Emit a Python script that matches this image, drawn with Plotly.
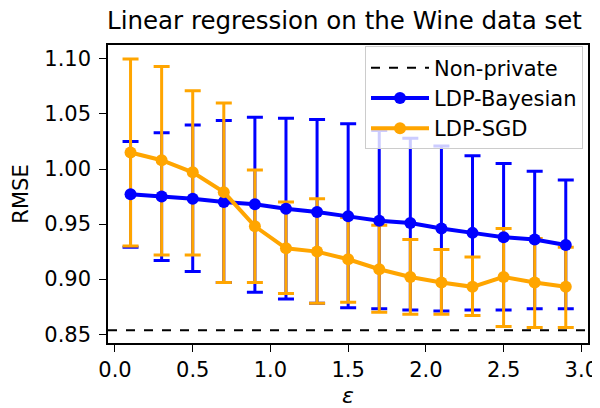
import plotly.graph_objects as go

# ---- data ----
eps = [0.1, 0.3, 0.5, 0.7, 0.9, 1.1, 1.3, 1.5, 1.7, 1.9, 2.1, 2.3, 2.5, 2.7, 2.9]

bayes_mean = [0.977, 0.975, 0.973, 0.970, 0.968, 0.964, 0.961, 0.957, 0.953, 0.951, 0.946, 0.942, 0.938, 0.936, 0.931]
bayes_hi = [1.025, 1.033, 1.040, 1.044, 1.047, 1.046, 1.045, 1.041, 1.035, 1.028, 1.021, 1.012, 1.005, 0.998, 0.990]
bayes_lo = [0.929, 0.917, 0.907, 0.897, 0.888, 0.882, 0.878, 0.874, 0.873, 0.872, 0.871, 0.872, 0.872, 0.873, 0.873]

sgd_mean = [1.015, 1.008, 0.997, 0.979, 0.948, 0.928, 0.925, 0.918, 0.909, 0.902, 0.897, 0.893, 0.902, 0.897, 0.893]
sgd_hi = [1.100, 1.093, 1.071, 1.060, 0.999, 0.970, 0.973, 0.956, 0.949, 0.936, 0.927, 0.920, 0.946, 0.937, 0.929]
sgd_lo = [0.930, 0.922, 0.922, 0.897, 0.897, 0.887, 0.878, 0.879, 0.870, 0.868, 0.868, 0.867, 0.857, 0.856, 0.856]

nonprivate = 0.8535

x_ticks = [0.0, 0.5, 1.0, 1.5, 2.0, 2.5, 3.0]
y_ticks = [0.85, 0.90, 0.95, 1.00, 1.05, 1.10]

BLUE = "#0000ff"
ORANGE = "#ffa500"
FONT = "DejaVu Sans"


def err(mean, hi, lo, color):
    return dict(
        type="data",
        symmetric=False,
        array=[h - m for h, m in zip(hi, mean)],
        arrayminus=[m - l for m, l in zip(mean, lo)],
        color=color,
        thickness=3,
        width=8,
    )


fig = go.Figure()

# error bars first (drawn beneath all lines/markers, like matplotlib)
fig.add_trace(go.Scatter(x=eps, y=bayes_mean, mode="markers",
                         marker=dict(size=1, color=BLUE, opacity=0),
                         error_y=err(bayes_mean, bayes_hi, bayes_lo, BLUE),
                         showlegend=False, hoverinfo="skip"))
fig.add_trace(go.Scatter(x=eps, y=sgd_mean, mode="markers",
                         marker=dict(size=1, color=ORANGE, opacity=0),
                         error_y=err(sgd_mean, sgd_hi, sgd_lo, ORANGE),
                         showlegend=False, hoverinfo="skip"))

# legend entry for the non-private line
fig.add_trace(go.Scatter(x=[None], y=[None], mode="lines",
                         line=dict(color="black", width=2, dash="dash"),
                         name="Non-private"))

fig.add_trace(go.Scatter(x=eps, y=bayes_mean, mode="lines+markers",
                         line=dict(color=BLUE, width=4),
                         marker=dict(size=12, color=BLUE),
                         name="LDP-Bayesian"))
fig.add_trace(go.Scatter(x=eps, y=sgd_mean, mode="lines+markers",
                         line=dict(color=ORANGE, width=4),
                         marker=dict(size=12, color=ORANGE),
                         name="LDP-SGD"))

fig.add_shape(type="line", xref="paper", x0=0, x1=1, yref="y",
              y0=nonprivate, y1=nonprivate,
              line=dict(color="black", width=2, dash="dash"), layer="above")

# the page body adds an 8px margin, so the figure is 592x400 with shifted margins
fig.update_layout(
    width=592, height=400,
    margin=dict(l=100, r=12, t=37, b=65),
    paper_bgcolor="white", plot_bgcolor="white",
    font=dict(family=FONT, size=21, color="black"),
    title=dict(text="Linear regression on the Wine data set",
               font=dict(family=FONT, size=24.5, color="black"),
               x=0.4927, xref="paper", xanchor="center",
               y=1 - 12 / 400, yref="container", yanchor="middle"),
    xaxis=dict(range=[-0.045, 3.043], tickvals=x_ticks,
               ticktext=[f"{v:.1f}" for v in x_ticks],
               showgrid=False, zeroline=False, automargin=False,
               showline=True, linecolor="black", linewidth=1.5, mirror=True,
               ticks="outside", ticklen=7, tickwidth=1.3, tickcolor="black",
               ticklabelstandoff=0,
               title=dict(text="<i>ε</i>", font=dict(size=22), standoff=17)),
    yaxis=dict(range=[0.842, 1.1126], tickvals=y_ticks,
               ticktext=[f"{v:.2f}" for v in y_ticks],
               showgrid=False, zeroline=False, automargin=False,
               showline=True, linecolor="black", linewidth=1.5, mirror=True,
               ticks="outside", ticklen=7, tickwidth=1.3, tickcolor="black",
               ticklabelstandoff=4,
               title=dict(text="RMSE", font=dict(size=21), standoff=10)),
    legend=dict(x=0.9896, y=0.995, xanchor="right", yanchor="top",
                bgcolor="rgba(255,255,255,0.8)", bordercolor="#cccccc",
                borderwidth=1, font=dict(family=FONT, size=21),
                itemwidth=58, tracegroupgap=0),
)

fig.write_html("out.html")
